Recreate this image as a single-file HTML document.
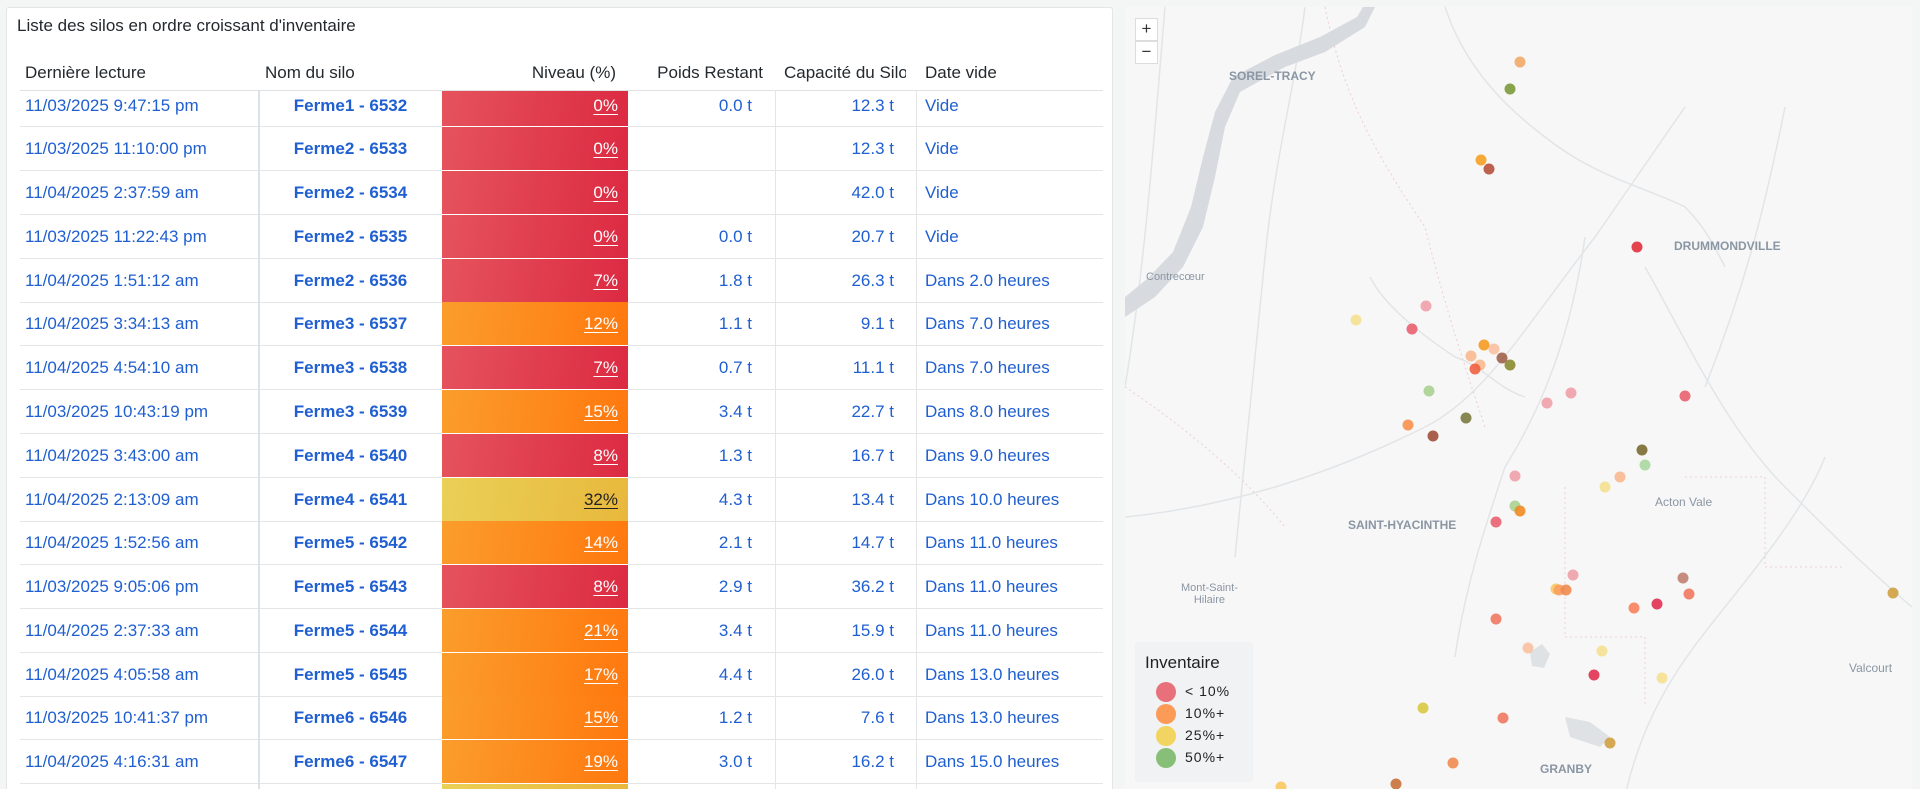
<!DOCTYPE html>
<html style="width:1920px;height:789px;overflow:hidden"><head><meta charset="utf-8">
<style>
*{margin:0;padding:0;box-sizing:border-box}
body{width:1920px;height:789px;overflow:hidden;background:#f4f5f5;font-family:"Liberation Sans",sans-serif;position:relative}
.clip{position:absolute;left:0;top:0;width:1920px;height:789px;overflow:hidden}
.panel{position:absolute;left:6px;top:7px;width:1107px;height:790px;background:#fff;border:1px solid #e4e5e6;border-radius:3px}
.title{position:absolute;left:17px;top:16px;font-size:17px;color:#24292e}
.h{position:absolute;top:63px;font-size:17px;color:#24292e;white-space:nowrap;line-height:20px}
.hl{position:absolute;left:20px;width:1083px;top:90px;height:1px;background:#dfe1e3}
.r{position:absolute;left:20px;width:1083px;border-bottom:1px solid #e3e5e7}
.r span{position:absolute;line-height:20px;font-size:17px;color:#1f5fd1;white-space:nowrap}
.d{left:5px}
.n{left:239px;width:183px;text-align:center;font-weight:bold}
.c{position:absolute;left:422px;width:186px;top:0;bottom:-1px;border-bottom:1px solid #fff}
.red{background:linear-gradient(100deg,#e5535d,#dc2a42)}
.org{background:linear-gradient(100deg,#fb9d2c,#ff780e)}
.yel{background:linear-gradient(100deg,#ead057,#e8b83c)}
.c span{right:10px;color:#fff;text-decoration:underline;text-underline-offset:3px}
.yel span{color:#222}
.p{right:351px;text-align:right}
.k{right:209px;text-align:right}
.v{left:905px}
.vl{position:absolute;top:90px;width:1px;height:699px;background:#e3e5e7}
.map{position:absolute;left:1125px;top:7px;width:787px;height:782px;background:#f7f7f7;overflow:hidden}
.zb{position:absolute;left:10px;width:23px;height:23px;background:#fff;border:1px solid #ddd;font-size:17px;line-height:20px;text-align:center;color:#333}
.lab{position:absolute;font-size:12px;color:#8a96a3;font-weight:bold;white-space:nowrap}
.leg{position:absolute;left:10px;top:635px;width:118px;height:140px;background:#f1f2f3;border-radius:3px}
.leg .t{position:absolute;left:10px;top:11px;font-size:17px;color:#222}
.leg .i{position:absolute;left:21px;width:20px;height:20px;border-radius:50%}
.leg .s{position:absolute;left:50px;font-size:14px;color:#222;letter-spacing:1px}
</style></head><body><div class="clip">
<div class="panel"></div>
<div class="title">Liste des silos en ordre croissant d'inventaire</div>
<div class="h" style="left:25px">Dernière lecture</div>
<div class="h" style="left:265px">Nom du silo</div>
<div class="h" style="left:522px;width:94px;text-align:right">Niveau (%)</div>
<div class="h" style="left:650px;width:113px;text-align:right">Poids Restant</div>
<div class="h" style="left:784px;width:122px;overflow:hidden">Capacité du Silo</div>
<div class="h" style="left:925px">Date vide</div>
<div class="hl"></div>

<div class="r" style="top:91px;height:36px"><span class="d" style="top:5px">11/03/2025 9:47:15 pm</span><span class="n" style="top:5px">Ferme1 - 6532</span><div class="c red"><span style="top:5px">0%</span></div><span class="p" style="top:5px">0.0 t</span><span class="k" style="top:5px">12.3 t</span><span class="v" style="top:5px">Vide</span></div>
<div class="r" style="top:127px;height:44px"><span class="d" style="top:12px">11/03/2025 11:10:00 pm</span><span class="n" style="top:12px">Ferme2 - 6533</span><div class="c red"><span style="top:12px">0%</span></div><span class="k" style="top:12px">12.3 t</span><span class="v" style="top:12px">Vide</span></div>
<div class="r" style="top:171px;height:44px"><span class="d" style="top:12px">11/04/2025 2:37:59 am</span><span class="n" style="top:12px">Ferme2 - 6534</span><div class="c red"><span style="top:12px">0%</span></div><span class="k" style="top:12px">42.0 t</span><span class="v" style="top:12px">Vide</span></div>
<div class="r" style="top:215px;height:44px"><span class="d" style="top:12px">11/03/2025 11:22:43 pm</span><span class="n" style="top:12px">Ferme2 - 6535</span><div class="c red"><span style="top:12px">0%</span></div><span class="p" style="top:12px">0.0 t</span><span class="k" style="top:12px">20.7 t</span><span class="v" style="top:12px">Vide</span></div>
<div class="r" style="top:259px;height:44px"><span class="d" style="top:12px">11/04/2025 1:51:12 am</span><span class="n" style="top:12px">Ferme2 - 6536</span><div class="c red"><span style="top:12px">7%</span></div><span class="p" style="top:12px">1.8 t</span><span class="k" style="top:12px">26.3 t</span><span class="v" style="top:12px">Dans 2.0 heures</span></div>
<div class="r" style="top:302px;height:44px"><span class="d" style="top:12px">11/04/2025 3:34:13 am</span><span class="n" style="top:12px">Ferme3 - 6537</span><div class="c org"><span style="top:12px">12%</span></div><span class="p" style="top:12px">1.1 t</span><span class="k" style="top:12px">9.1 t</span><span class="v" style="top:12px">Dans 7.0 heures</span></div>
<div class="r" style="top:346px;height:44px"><span class="d" style="top:12px">11/04/2025 4:54:10 am</span><span class="n" style="top:12px">Ferme3 - 6538</span><div class="c red"><span style="top:12px">7%</span></div><span class="p" style="top:12px">0.7 t</span><span class="k" style="top:12px">11.1 t</span><span class="v" style="top:12px">Dans 7.0 heures</span></div>
<div class="r" style="top:390px;height:44px"><span class="d" style="top:12px">11/03/2025 10:43:19 pm</span><span class="n" style="top:12px">Ferme3 - 6539</span><div class="c org"><span style="top:12px">15%</span></div><span class="p" style="top:12px">3.4 t</span><span class="k" style="top:12px">22.7 t</span><span class="v" style="top:12px">Dans 8.0 heures</span></div>
<div class="r" style="top:434px;height:44px"><span class="d" style="top:12px">11/04/2025 3:43:00 am</span><span class="n" style="top:12px">Ferme4 - 6540</span><div class="c red"><span style="top:12px">8%</span></div><span class="p" style="top:12px">1.3 t</span><span class="k" style="top:12px">16.7 t</span><span class="v" style="top:12px">Dans 9.0 heures</span></div>
<div class="r" style="top:478px;height:44px"><span class="d" style="top:12px">11/04/2025 2:13:09 am</span><span class="n" style="top:12px">Ferme4 - 6541</span><div class="c yel"><span style="top:12px">32%</span></div><span class="p" style="top:12px">4.3 t</span><span class="k" style="top:12px">13.4 t</span><span class="v" style="top:12px">Dans 10.0 heures</span></div>
<div class="r" style="top:521px;height:44px"><span class="d" style="top:12px">11/04/2025 1:52:56 am</span><span class="n" style="top:12px">Ferme5 - 6542</span><div class="c org"><span style="top:12px">14%</span></div><span class="p" style="top:12px">2.1 t</span><span class="k" style="top:12px">14.7 t</span><span class="v" style="top:12px">Dans 11.0 heures</span></div>
<div class="r" style="top:565px;height:44px"><span class="d" style="top:12px">11/03/2025 9:05:06 pm</span><span class="n" style="top:12px">Ferme5 - 6543</span><div class="c red"><span style="top:12px">8%</span></div><span class="p" style="top:12px">2.9 t</span><span class="k" style="top:12px">36.2 t</span><span class="v" style="top:12px">Dans 11.0 heures</span></div>
<div class="r" style="top:609px;height:44px"><span class="d" style="top:12px">11/04/2025 2:37:33 am</span><span class="n" style="top:12px">Ferme5 - 6544</span><div class="c org"><span style="top:12px">21%</span></div><span class="p" style="top:12px">3.4 t</span><span class="k" style="top:12px">15.9 t</span><span class="v" style="top:12px">Dans 11.0 heures</span></div>
<div class="r" style="top:653px;height:44px"><span class="d" style="top:12px">11/04/2025 4:05:58 am</span><span class="n" style="top:12px">Ferme5 - 6545</span><div class="c org"><span style="top:12px">17%</span></div><span class="p" style="top:12px">4.4 t</span><span class="k" style="top:12px">26.0 t</span><span class="v" style="top:12px">Dans 13.0 heures</span></div>
<div class="r" style="top:696px;height:44px"><span class="d" style="top:12px">11/03/2025 10:41:37 pm</span><span class="n" style="top:12px">Ferme6 - 6546</span><div class="c org"><span style="top:12px">15%</span></div><span class="p" style="top:12px">1.2 t</span><span class="k" style="top:12px">7.6 t</span><span class="v" style="top:12px">Dans 13.0 heures</span></div>
<div class="r" style="top:740px;height:44px"><span class="d" style="top:12px">11/04/2025 4:16:31 am</span><span class="n" style="top:12px">Ferme6 - 6547</span><div class="c org"><span style="top:12px">19%</span></div><span class="p" style="top:12px">3.0 t</span><span class="k" style="top:12px">16.2 t</span><span class="v" style="top:12px">Dans 15.0 heures</span></div>
<div class="r" style="top:784px;height:5px;border:0"><div class="c yel" style="border:0"></div></div>
<div class="vl" style="left:258px;width:2px;background:#dde2e6"></div>
<div class="vl" style="left:775px"></div>
<div class="vl" style="left:916px"></div>

<div class="map">
<svg width="787" height="782" style="position:absolute;left:0;top:0">
<g fill="none" stroke="#e2e5e8" stroke-width="1.5">
<path d="M320 0 C340 60 380 100 420 130 C470 170 520 180 560 200 C580 220 590 240 600 260"/>
<path d="M180 0 C170 80 150 150 140 250 C130 350 120 450 110 550"/>
<path d="M245 270 C260 300 300 330 330 350 C360 360 370 380 400 390"/>
<path d="M0 510 C100 500 200 470 300 420 C360 390 400 320 470 230 L560 100"/>
<path d="M460 230 C450 300 430 380 380 460 C360 520 340 580 330 650"/>
<path d="M660 100 C640 200 620 280 580 380"/>
<path d="M700 450 C680 500 640 550 600 600 C560 650 520 700 500 789"/>
<path d="M40 0 C30 120 20 260 0 380"/>
<path d="M520 260 C560 330 600 420 660 480 C700 520 740 560 787 600"/>
</g>
<g fill="none" stroke="#eccfd0" stroke-width="1" stroke-dasharray="2 3">
<path d="M200 0 C220 100 260 160 300 220 C320 300 340 360 360 420"/>
<path d="M440 480 L440 630 L520 630 L520 700"/>
<path d="M560 470 L640 470 L640 560 L720 560"/>
<path d="M0 380 C60 420 120 470 160 520"/>
</g>
<path d="M250 0 L240 20 L200 45 L160 60 L115 85 L100 120 L90 170 L78 220 L58 260 L30 290 L0 310 L0 290 L22 272 L48 245 L66 200 L78 150 L90 105 L108 70 L150 48 L195 30 L232 10 L238 0 Z" fill="#d7dbdf"/>
<path d="M405 645 l12 -8 l8 10 l-6 14 l-12 -2 z" fill="#dfe2e5"/>
<path d="M440 710 l25 5 l20 15 l-10 10 l-30 -10 z" fill="#dfe2e5"/>
<g fill-opacity="0.9">
<circle cx="395" cy="55" r="5.5" fill="#f0a868"/>
<circle cx="385" cy="82" r="5.5" fill="#7a9a3a"/>
<circle cx="356" cy="153" r="5.5" fill="#f5a020"/>
<circle cx="364" cy="162" r="5.5" fill="#b5503a"/>
<circle cx="512" cy="240" r="5.5" fill="#e0303a"/>
<circle cx="301" cy="299" r="5.5" fill="#f0a0a8"/>
<circle cx="231" cy="313" r="5.5" fill="#f5e090"/>
<circle cx="287" cy="322" r="5.5" fill="#e86070"/>
<circle cx="359" cy="338" r="5.5" fill="#f59a20"/>
<circle cx="369" cy="342" r="5.5" fill="#f8c0a0"/>
<circle cx="346" cy="349" r="5.5" fill="#f8b890"/>
<circle cx="377" cy="351" r="5.5" fill="#a0604a"/>
<circle cx="355" cy="358" r="5.5" fill="#f8b890"/>
<circle cx="385" cy="358" r="5.5" fill="#8a8a30"/>
<circle cx="350" cy="362" r="5.5" fill="#f06040"/>
<circle cx="304" cy="384" r="5.5" fill="#a8d090"/>
<circle cx="446" cy="386" r="5.5" fill="#f0a0a8"/>
<circle cx="560" cy="389" r="5.5" fill="#e86070"/>
<circle cx="422" cy="396" r="5.5" fill="#f0a0a8"/>
<circle cx="283" cy="418" r="5.5" fill="#f8904a"/>
<circle cx="341" cy="411" r="5.5" fill="#7a7a40"/>
<circle cx="308" cy="429" r="5.5" fill="#a0503a"/>
<circle cx="517" cy="443" r="5.5" fill="#7a6a30"/>
<circle cx="520" cy="458" r="5.5" fill="#a8d8a0"/>
<circle cx="495" cy="470" r="5.5" fill="#f8b890"/>
<circle cx="480" cy="480" r="5.5" fill="#f5e090"/>
<circle cx="390" cy="469" r="5.5" fill="#f0a0a8"/>
<circle cx="390" cy="499" r="5.5" fill="#a8d090"/>
<circle cx="395" cy="504" r="5.5" fill="#f08a20"/>
<circle cx="371" cy="515" r="5.5" fill="#e86070"/>
<circle cx="448" cy="568" r="5.5" fill="#f0a0a8"/>
<circle cx="431" cy="582" r="5.5" fill="#f8c860"/>
<circle cx="434" cy="583" r="5.5" fill="#f8a060"/>
<circle cx="441" cy="583" r="5.5" fill="#f08a50"/>
<circle cx="558" cy="571" r="5.5" fill="#c08070"/>
<circle cx="564" cy="587" r="5.5" fill="#f07860"/>
<circle cx="532" cy="597" r="5.5" fill="#e03050"/>
<circle cx="509" cy="601" r="5.5" fill="#f8805a"/>
<circle cx="768" cy="586" r="5.5" fill="#d0a040"/>
<circle cx="371" cy="612" r="5.5" fill="#f07860"/>
<circle cx="403" cy="641" r="5.5" fill="#f8c0a0"/>
<circle cx="477" cy="644" r="5.5" fill="#f5e090"/>
<circle cx="469" cy="668" r="5.5" fill="#e03050"/>
<circle cx="537" cy="671" r="5.5" fill="#f5e090"/>
<circle cx="298" cy="701" r="5.5" fill="#d8c840"/>
<circle cx="378" cy="711" r="5.5" fill="#f07860"/>
<circle cx="485" cy="736" r="5.5" fill="#d0a040"/>
<circle cx="328" cy="756" r="5.5" fill="#f08a50"/>
<circle cx="271" cy="777" r="5.5" fill="#c8703a"/>
<circle cx="156" cy="780" r="5.5" fill="#f8c860"/>
</g>
</svg>
<div class="zb" style="top:11px">+</div>
<div class="zb" style="top:34px">−</div>
<div class="lab" style="left:104px;top:62px">SOREL-TRACY</div>
<div class="lab" style="left:549px;top:232px">DRUMMONDVILLE</div>
<div class="lab" style="left:21px;top:264px;font-weight:normal;font-size:11px">Contrecœur</div>
<div class="lab" style="left:223px;top:511px">SAINT-HYACINTHE</div>
<div class="lab" style="left:530px;top:488px;font-weight:normal">Acton Vale</div>
<div class="lab" style="left:56px;top:575px;font-weight:normal;font-size:11px;text-align:center;line-height:12px">Mont-Saint-<br>Hilaire</div>
<div class="lab" style="left:724px;top:654px;font-weight:normal">Valcourt</div>
<div class="lab" style="left:415px;top:755px">GRANBY</div>
<div class="leg">
<div class="t">Inventaire</div>
<div class="i" style="top:40px;background:#e8707a"></div><div class="s" style="top:41px">&lt; 10%</div>
<div class="i" style="top:62px;background:#fc9a58"></div><div class="s" style="top:63px">10%+</div>
<div class="i" style="top:84px;background:#f2d460"></div><div class="s" style="top:85px">25%+</div>
<div class="i" style="top:106px;background:#88bf78"></div><div class="s" style="top:107px">50%+</div>
</div>
</div>
</div></body></html>
